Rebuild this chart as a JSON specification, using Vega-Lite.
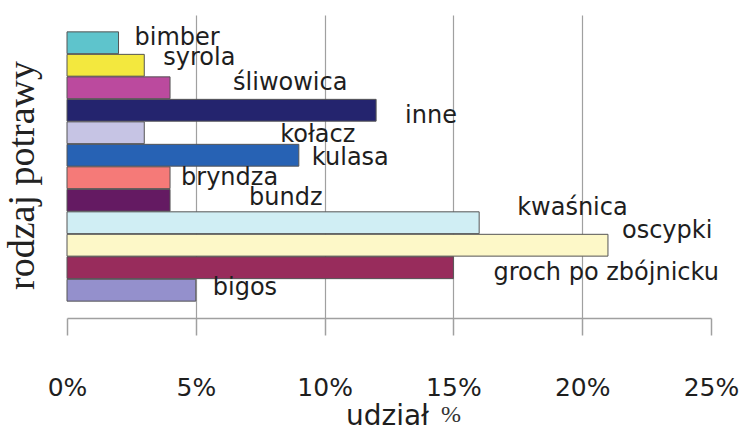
{
  "$schema": "https://vega.github.io/schema/vega-lite/v6.json",
  "width": 644,
  "height": 303,
  "autosize": "none",
  "padding": {"left": 67, "top": 15, "right": 42, "bottom": 114},
  "background": "white",
  "config": {"view": {"stroke": null}},
  "title": {"text": "%", "orient": "bottom", "font": "Liberation Serif", "fontSize": 24, "fontWeight": "normal", "color": "#333", "anchor": "middle", "frame": "group", "dx": 62, "offset": -27},
  "data": {"values": [
    {"rodzaj": "bimber", "udzial": 0.02},
    {"rodzaj": "syrola", "udzial": 0.03},
    {"rodzaj": "śliwowica", "udzial": 0.04},
    {"rodzaj": "inne", "udzial": 0.12},
    {"rodzaj": "kołacz", "udzial": 0.03},
    {"rodzaj": "kulasa", "udzial": 0.09},
    {"rodzaj": "bryndza", "udzial": 0.04},
    {"rodzaj": "bundz", "udzial": 0.04},
    {"rodzaj": "kwaśnica", "udzial": 0.16},
    {"rodzaj": "oscypki", "udzial": 0.21},
    {"rodzaj": "groch po zbójnicku", "udzial": 0.15},
    {"rodzaj": "bigos", "udzial": 0.05}
  ]},
  "encoding": {
    "y": {"field": "rodzaj", "type": "nominal", "sort": null,
      "scale": {"paddingInner": 0.03, "paddingOuter": 0.75},
      "axis": {"title": "rodzaj potrawy", "labels": false, "ticks": false, "domain": false, "grid": false,
        "titleFont": "Liberation Serif", "titleFontSize": 38, "titleFontWeight": "normal", "titleColor": "#222", "titlePadding": 26, "titleY": 160}},
    "x": {"field": "udzial", "type": "quantitative", "scale": {"domain": [0, 0.25], "nice": false},
      "axis": {"title": "udział", "format": ".0%", "values": [0, 0.05, 0.1, 0.15, 0.2, 0.25],
        "tickSize": 17, "tickColor": "#a0a0a0", "tickWidth": 1.5,
        "domainColor": "#a0a0a0", "domainWidth": 1.5,
        "grid": true, "gridColor": "#a0a0a0", "gridWidth": 1.2,
        "gridOpacity": {"condition": {"test": "datum.value > 0 && datum.value < 0.25", "value": 1}, "value": 0},
        "labelFlush": false, "labelOverlap": false, "labelDx": 8,
        "labelFont": "DejaVu Sans", "labelFontSize": 25, "labelColor": "#1e1e1e", "labelPadding": 40,
        "titleFont": "DejaVu Sans", "titleFontSize": 28, "titleFontWeight": "normal", "titleColor": "#1e1e1e", "titlePadding": 2, "titleX": 320}}
  },
  "layer": [
    {"mark": {"type": "bar", "stroke": "#555", "strokeWidth": 1},
     "encoding": {"color": {"field": "rodzaj", "type": "nominal", "legend": null,
       "scale": {"domain": ["bimber", "syrola", "śliwowica", "inne", "kołacz", "kulasa", "bryndza", "bundz", "kwaśnica", "oscypki", "groch po zbójnicku", "bigos"],
                 "range": ["#5ec4cc", "#f3e83e", "#bb4a9e", "#24246e", "#c6c4e4", "#2762b4", "#f57a78", "#641a62", "#d0eef4", "#fdf8c8", "#982c5c", "#9490cc"]}}}},
    {"transform": [{"filter": "datum.rodzaj == 'bimber'"}], "mark": {"type": "text", "align": "left", "baseline": "alphabetic", "font": "DejaVu Sans", "fontSize": 24, "color": "#1e1e1e", "dx": 16, "dy": 2}, "encoding": {"text": {"field": "rodzaj"}}},
    {"transform": [{"filter": "datum.rodzaj == 'syrola'"}], "mark": {"type": "text", "align": "left", "baseline": "alphabetic", "font": "DejaVu Sans", "fontSize": 24, "color": "#1e1e1e", "dx": 19, "dy": 0}, "encoding": {"text": {"field": "rodzaj"}}},
    {"transform": [{"filter": "datum.rodzaj == 'śliwowica'"}], "mark": {"type": "text", "align": "left", "baseline": "alphabetic", "font": "DejaVu Sans", "fontSize": 24, "color": "#1e1e1e", "dx": 63, "dy": 2}, "encoding": {"text": {"field": "rodzaj"}}},
    {"transform": [{"filter": "datum.rodzaj == 'inne'"}], "mark": {"type": "text", "align": "left", "baseline": "alphabetic", "font": "DejaVu Sans", "fontSize": 24, "color": "#1e1e1e", "dx": 29, "dy": 13}, "encoding": {"text": {"field": "rodzaj"}}},
    {"transform": [{"filter": "datum.rodzaj == 'kołacz'"}], "mark": {"type": "text", "align": "left", "baseline": "alphabetic", "font": "DejaVu Sans", "fontSize": 24, "color": "#1e1e1e", "dx": 136, "dy": 9}, "encoding": {"text": {"field": "rodzaj"}}},
    {"transform": [{"filter": "datum.rodzaj == 'kulasa'"}], "mark": {"type": "text", "align": "left", "baseline": "alphabetic", "font": "DejaVu Sans", "fontSize": 24, "color": "#1e1e1e", "dx": 13, "dy": 10}, "encoding": {"text": {"field": "rodzaj"}}},
    {"transform": [{"filter": "datum.rodzaj == 'bryndza'"}], "mark": {"type": "text", "align": "left", "baseline": "alphabetic", "font": "DejaVu Sans", "fontSize": 24, "color": "#1e1e1e", "dx": 11, "dy": 7}, "encoding": {"text": {"field": "rodzaj"}}},
    {"transform": [{"filter": "datum.rodzaj == 'bundz'"}], "mark": {"type": "text", "align": "left", "baseline": "alphabetic", "font": "DejaVu Sans", "fontSize": 24, "color": "#1e1e1e", "dx": 79, "dy": 5}, "encoding": {"text": {"field": "rodzaj"}}},
    {"transform": [{"filter": "datum.rodzaj == 'kwaśnica'"}], "mark": {"type": "text", "align": "left", "baseline": "alphabetic", "font": "DejaVu Sans", "fontSize": 24, "color": "#1e1e1e", "dx": 38, "dy": -8}, "encoding": {"text": {"field": "rodzaj"}}},
    {"transform": [{"filter": "datum.rodzaj == 'oscypki'"}], "mark": {"type": "text", "align": "left", "baseline": "alphabetic", "font": "DejaVu Sans", "fontSize": 24, "color": "#1e1e1e", "dx": 14, "dy": -7}, "encoding": {"text": {"field": "rodzaj"}}},
    {"transform": [{"filter": "datum.rodzaj == 'groch po zbójnicku'"}], "mark": {"type": "text", "align": "left", "baseline": "alphabetic", "font": "DejaVu Sans", "fontSize": 24, "color": "#1e1e1e", "dx": 40, "dy": 12}, "encoding": {"text": {"field": "rodzaj"}}},
    {"transform": [{"filter": "datum.rodzaj == 'bigos'"}], "mark": {"type": "text", "align": "left", "baseline": "alphabetic", "font": "DejaVu Sans", "fontSize": 24, "color": "#1e1e1e", "dx": 17, "dy": 5}, "encoding": {"text": {"field": "rodzaj"}}}
  ]
}
